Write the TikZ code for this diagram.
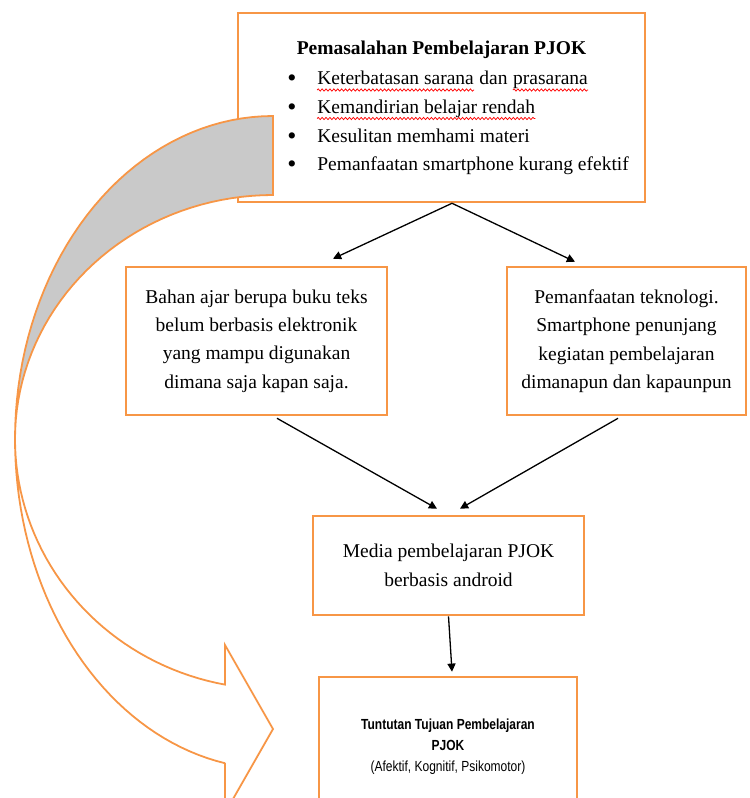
\documentclass[tikz,border=0pt]{standalone}
\usepackage{fontspec}
\setmainfont{Liberation Serif}
\newfontfamily\narrowsans[FakeStretch=0.82]{Liberation Sans}
\usetikzlibrary{arrows.meta, calc, decorations.pathmorphing}
\definecolor{oranye}{HTML}{F79646}
\definecolor{abu}{HTML}{C9C9C9}

\begin{document}
\begin{tikzpicture}[
    x=0.615pt, y=-0.615pt,
    font=\fontsize{12}{17.5}\selectfont,
    obox/.style={draw=oranye, line width=1.6pt, fill=white, align=center, inner sep=2pt},
    teks/.style={anchor=base west, inner sep=0},
    ejaan/.style={red, line width=0.45pt, decorate, decoration={snake, segment length=2.4pt, amplitude=0.7pt}},
    arr/.style={-{Triangle[length=5pt, width=5pt]}, line width=0.8pt},
    lengkung/.style={draw=oranye, line width=1.1pt, line join=miter}
]
\useasboundingbox (0,0) rectangle (749,798);
\clip (0,0) rectangle (749,798);

% Pemasalahan
\node[obox, minimum width=250.3pt, minimum height=116.2pt] (masalah) at (441.5,107.5) {};
\node[font=\fontsize{12}{17.5}\selectfont\bfseries, anchor=base, inner sep=0] (judul) at (441.5,55) {Pemasalahan Pembelajaran PJOK};
\foreach \i in {1,...,4}
  \node[teks, font=\fontsize{16}{16}\selectfont] (titik\i) at (287,{87+28.5*(\i-1)}) {\textbullet};
\node[teks] (k1) at (317,85) {Keterbatasan sarana};
\node[teks] (k2) at ($(k1.base east)+(4.9,0)$) {dan};
\node[teks] (k3) at ($(k2.base east)+(4.9,0)$) {prasarana};
\node[teks] (k4) at (317,113.5) {Kemandirian belajar rendah};
\node[teks] (k5) at (317,142) {Kesulitan memhami materi};
\node[teks] (k6) at (317,170.5) {Pemanfaatan smartphone kurang efektif};
\foreach \k in {k1,k3,k4}
  \draw[ejaan] ($(\k.base west)+(0,5)$) -- ($(\k.base east)+(0,5)$);

% Dua penyebab
\node[obox, minimum width=160.5pt, minimum height=91pt] (bahan) at (256.5,341)
  {Bahan ajar berupa buku teks\\belum berbasis elektronik\\yang mampu digunakan\\dimana saja kapan saja.};
\node[obox, minimum width=147pt, minimum height=91pt] (teknologi) at (626.5,341)
  {Pemanfaatan teknologi.\\Smartphone penunjang\\kegiatan pembelajaran\\dimanapun dan kapaunpun};

% Media
\node[obox, minimum width=166.7pt, minimum height=60.9pt] (media) at (448.5,565.5)
  {Media pembelajaran PJOK\\berbasis android};

% Tujuan
\node[obox, minimum width=158.7pt, minimum height=86.1pt, font=\narrowsans\fontsize{9}{13}\selectfont] (tujuan) at (448,747)
  {\textbf{Tuntutan Tujuan Pembelajaran}\\\textbf{PJOK}\\(Afektif, Kognitif, Psikomotor)};

% Panah
\draw[arr] ($(masalah.south)+(10.5,0)$) -- ($(bahan.north)+(76.5,-7)$);
\draw[arr] ($(masalah.south)+(10.5,0)$) -- ($(teknologi.north)+(-51.5,-4)$);
\draw[arr] ($(bahan.south)+(20.5,2)$) -- ($(media.north)+(-11.5,-6)$);
\draw[arr] ($(teknologi.south)+(-8.5,2)$) -- ($(media.north)+(11.5,-6)$);
\draw[arr] (media.south) -- ($(tujuan.north)+(4,-4)$);

% Panah lengkung
\draw[lengkung, fill=white]
  plot[domain=180:259.28, samples=40] ({273+258*cos(\x)},{439-250*sin(\x)})
  -- (225,645) -- (273,729) -- (225,813) -- (225,763)
  -- plot[domain=259.28:180, samples=40] ({273+258*cos(\x)},{439-330*sin(\x)}) -- cycle;
\draw[lengkung, fill=abu]
  plot[domain=90:180, samples=40] ({273+258*cos(\x)},{439-323*sin(\x)})
  -- plot[domain=180:90, samples=40] ({273+258*cos(\x)},{439-244*sin(\x)}) -- cycle;

\end{tikzpicture}
\end{document}
